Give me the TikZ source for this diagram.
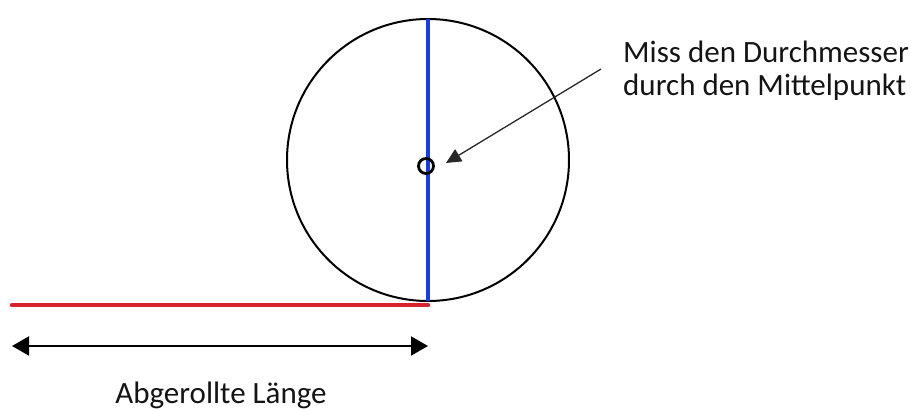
\documentclass[tikz,border=0pt]{standalone}
\usepackage{fontspec}
\setmainfont{Carlito}
\usetikzlibrary{arrows.meta}
\tikzset{
  wheelstyle/.style={circle, draw=black, line width=2pt, minimum size=282pt, inner sep=0pt, outer sep=0pt},
  hubstyle/.style={circle, draw=black, line width=2.8pt, minimum size=15pt, inner sep=0pt},
  diam/.style={draw={rgb,255:red,20;green,60;blue,235}, line width=3.5pt},
  rolled/.style={draw={rgb,255:red,215;green,35;blue,45}, line width=4.5pt, line cap=round},
  dimarrow/.style={draw=black, line width=2pt, {Triangle[length=17pt,width=19pt]}-{Triangle[length=17pt,width=19pt]}},
  pointer/.style={draw={rgb,255:red,40;green,40;blue,40}, line width=1.3pt, -{Triangle[length=15pt,width=14pt]}},
  labeltext/.style={font=\fontsize{31}{33}\selectfont, text={rgb,255:red,20;green,20;blue,20}, inner sep=0pt}
}
\begin{document}
\begin{tikzpicture}[x=1pt,y=-1pt]
\useasboundingbox (0,0) rectangle (911,410);
\node[wheelstyle] (wheel) at (428,160) {};
\draw[diam] (wheel.north) -- (wheel.south);
\coordinate (rstart) at (12,305);
\coordinate (rend) at (428,305);
\draw[rolled] (rstart) -- (rend);
\node[hubstyle] (hub) at (426,166) {};
\coordinate (dleft) at (12,346);
\coordinate (dright) at (428,346);
\draw[dimarrow] (dleft) -- (dright);
\coordinate (ptail) at (601,69);
\coordinate (ptip) at (446,163);
\draw[pointer] (ptail) -- (ptip);
\node[labeltext, anchor=base west, align=left] (note) at (623,95) {Miss den Durchmesser\\durch den Mittelpunkt};
\node[labeltext, anchor=base] (len) at (221,403) {Abgerollte Länge};
\end{tikzpicture}
\end{document}
